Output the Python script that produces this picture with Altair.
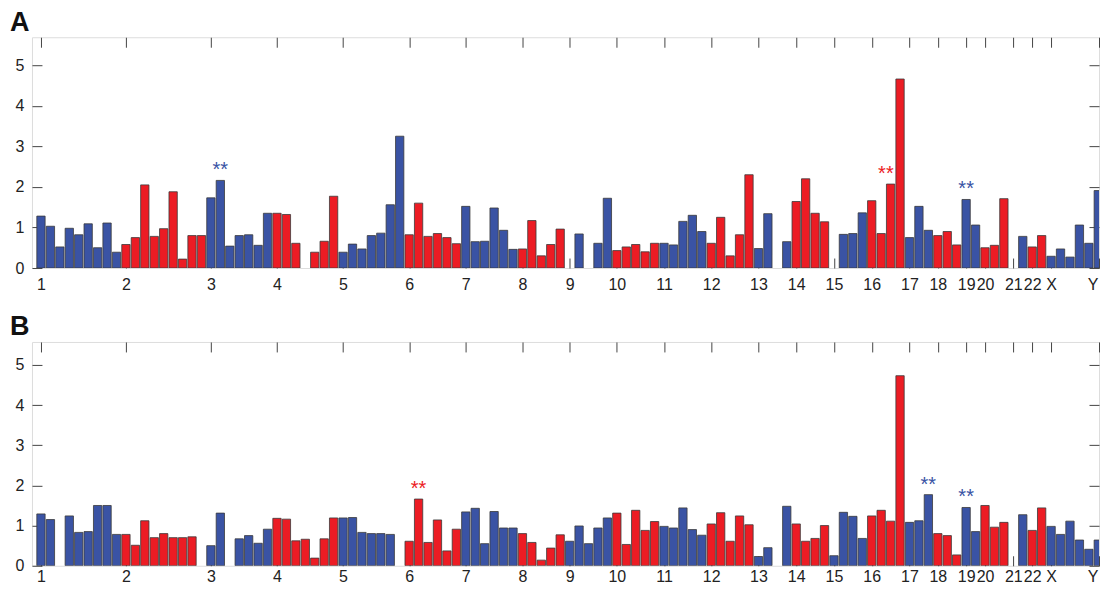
import altair as alt
import pandas as pd

# chromosome labels and the bar slot at which each chromosome starts
chrom_labels = ["1", "2", "3", "4", "5", "6", "7", "8", "9", "10", "11", "12",
                "13", "14", "15", "16", "17", "18", "19", "20", "21", "22", "X", "Y"]
chrom_start = [0, 9, 18, 25, 32, 39, 45, 51, 56, 61, 66, 71,
               76, 80, 84, 88, 92, 95, 98, 100, 103, 105, 107, 113]

# panel A: one value per slot (None = no bar), colour group per slot
a_values = [1.28, 1.03, 0.52, 0.98, 0.82, 1.09, 0.50, 1.11, 0.39,
            0.58, 0.75, 2.05, 0.78, 0.97, 1.88, 0.22, 0.80, 0.80,
            1.73, 2.16, 0.54, 0.80, 0.82, 0.56, 1.35,
            1.35, 1.32, 0.61, None, 0.39, 0.66, 1.77,
            0.39, 0.59, 0.47, 0.80, 0.86, 1.56, 3.25,
            0.82, 1.60, 0.78, 0.85, 0.75, 0.60,
            1.52, 0.65, 0.66, 1.48, 0.93, 0.46,
            0.47, 1.17, 0.30, 0.58, 0.96,
            None, 0.84, None, 0.61, 1.72,
            0.43, 0.52, 0.58, 0.40, 0.61,
            0.61, 0.57, 1.15, 1.30, 0.90,
            0.61, 1.25, 0.30, 0.82, 2.30,
            0.48, 1.34, None, 0.65,
            1.64, 2.20, 1.35, 1.14,
            None, 0.83, 0.85, 1.36,
            1.66, 0.85, 2.07, 4.66,
            0.75, 1.52, 0.93,
            0.80, 0.90, 0.57,
            1.69, 1.06,
            0.50, 0.56, 1.71,
            None, 0.78,
            0.52, 0.80,
            0.29, 0.47, 0.27, 1.06, 0.61, 1.91,
            0.32]
a_groups = list("bbbbbbbbb" "rrrrrrrrr" "bbbbbbb" "rrrrrrr" "bbbbbbb" "rrrrrr"
                "bbbbbb" "rrrrr" "bbbbb" "rrrrr" "bbbbb" "rrrrr" "bbbb" "rrrr"
                "bbbb" "rrrr" "bbb" "rrr" "bb" "rrr" "bb" "rr" "bbbbbb" "r")
a_stars_slot = [19, 89.5, 98]
a_stars_value = [2.16, 2.07, 1.69]
a_stars_group = ["b", "r", "b"]

# panel B
b_values = [1.29, 1.15, None, 1.24, 0.83, 0.85, 1.50, 1.50, 0.78,
            0.78, 0.51, 1.12, 0.70, 0.80, 0.70, 0.70, 0.72, None,
            0.50, 1.31, None, 0.67, 0.75, 0.56, 0.91,
            1.18, 1.16, 0.62, 0.66, 0.19, 0.67, 1.19,
            1.19, 1.20, 0.83, 0.80, 0.80, 0.78, None,
            0.61, 1.66, 0.58, 1.14, 0.37, 0.91,
            1.34, 1.43, 0.55, 1.35, 0.94, 0.94,
            0.80, 0.58, 0.14, 0.44, 0.77,
            0.61, 0.99, 0.55, 0.94, 1.19,
            1.31, 0.53, 1.38, 0.88, 1.10,
            0.98, 0.94, 1.44, 0.90, 0.76,
            1.04, 1.32, 0.61, 1.24, 1.02,
            0.23, 0.45, None, 1.48,
            1.04, 0.61, 0.68, 1.00,
            0.25, 1.33, 1.23, 0.68,
            1.24, 1.38, 1.11, 4.73,
            1.08, 1.12, 1.77,
            0.80, 0.75, 0.27,
            1.45, 0.85,
            1.50, 0.96, 1.08,
            None, 1.27,
            0.88, 1.44,
            0.98, 0.78, 1.11, 0.64, 0.41, 0.64,
            0.32]
b_groups = a_groups
b_stars_slot = [40, 94, 98]
b_stars_value = [1.66, 1.77, 1.45]
b_stars_group = ["r", "b", "b"]

BLUE = "#3a53a4"
RED = "#ec1c24"
FONT = "Liberation Sans"
LABEL_SIZE = 16
TICK_COLOR = "#444444"

PLOT_W = 1068
SLOT_PX = 9.449
X_MIN = -0.9525
X_MAX = X_MIN + PLOT_W / SLOT_PX   # the figure is cropped on the right, inside chromosome X/Y

# ticks that fall inside the visible range; the last (cropped) chromosome label sits at the edge
axis_values = [s for s in chrom_start if s <= X_MAX] + [round(X_MAX, 4)]
label_map = "{" + ",".join(f"'{s}':'{l}'" for s, l in zip(chrom_start, chrom_labels)) + "}"
edge = round(X_MAX, 4) - 0.01
label_expr = f"datum.value >= {edge} ? '{chrom_labels[-1]}' : {label_map}[''+datum.value]"


def axis(orient, values, labels, **kw):
    return alt.Axis(orient=orient, values=values, offset=-10, tickSize=10, ticks=True,
                    tickColor=TICK_COLOR, tickWidth=1, domain=False, grid=False,
                    labels=labels, title=None, labelFont=FONT, labelFontSize=LABEL_SIZE,
                    labelColor="#222222", labelFlush=False, labelOverlap=False,
                    minExtent=0, **kw)


def panel(values, groups, s_slot, s_val, s_grp, title, ymax, height, xpad):
    df = pd.DataFrame({"slot": list(range(len(values))), "value": values, "grp": groups})
    df = df.dropna(subset=["value"])
    sdf = pd.DataFrame({"slot": s_slot, "value": s_val, "grp": s_grp})

    xs = alt.Scale(domain=[X_MIN, X_MAX], nice=False, zero=False)
    ys = alt.Scale(domain=[0, ymax], nice=False, zero=True)
    cs = alt.Scale(domain=["b", "r"], range=[BLUE, RED])

    bottom_axis = axis("bottom", axis_values, True, labelPadding=xpad,
                       labelExpr=label_expr,
                       labelAlign={"expr": f"datum.value >= {edge} ? 'right' : 'center'"},
                       labelOffset={"expr": f"datum.value >= {edge} ? -1 : 0"})
    top_axis = axis("top", axis_values, False)
    left_axis = axis("left", [0, 1, 2, 3, 4, 5], True, labelPadding=8)
    right_axis = axis("right", [0, 1, 2, 3, 4, 5], False)

    base = alt.Chart(df).transform_calculate(x0="datum.slot - 0.44", x1="datum.slot + 0.44")
    bars = base.mark_bar(stroke="#3a3a3a", strokeWidth=0.8, clip=True).encode(
        x=alt.X("x0:Q", scale=xs, axis=bottom_axis),
        x2="x1:Q",
        y=alt.Y("value:Q", scale=ys, axis=left_axis),
        y2=alt.datum(0),
        color=alt.Color("grp:N", scale=cs, legend=None),
    )
    stars = alt.Chart(sdf).mark_text(fontSize=20, dy=-10, baseline="middle", font=FONT,
                                     clip=True).encode(
        x=alt.X("slot:Q", scale=xs, axis=None),
        y=alt.Y("value:Q", scale=ys, axis=None),
        color=alt.Color("grp:N", scale=cs, legend=None),
        text=alt.value("**"),
    )
    ghost = base.mark_bar(opacity=0, clip=True).encode(
        x=alt.X("x0:Q", scale=xs, axis=top_axis),
        x2="x1:Q",
        y=alt.Y("value:Q", scale=ys, axis=right_axis),
        y2=alt.datum(0),
    )
    return alt.layer(bars, stars, ghost).resolve_axis(x="independent", y="independent").properties(
        width=PLOT_W, height=height,
        title=alt.TitleParams(text=title, anchor="start", frame="bounds", fontSize=27,
                              fontWeight="bold", font=FONT, color="#111", offset=0, dx=-5),
    )


pa = panel(a_values, a_groups, a_stars_slot, a_stars_value, a_stars_group, "A", 5.69, 231, 8)
pb = panel(b_values, b_groups, b_stars_slot, b_stars_value, b_stars_group, "B", 5.57, 224, 3)

chart = alt.vconcat(pa, pb, spacing=74, bounds="flush").properties(
    padding={"left": 1, "top": 0, "right": 0, "bottom": 0}
).configure_view(stroke="#333333", strokeWidth=1).configure(background="white")

chart.save("out.html", embed_options={"renderer": "svg", "actions": False})
